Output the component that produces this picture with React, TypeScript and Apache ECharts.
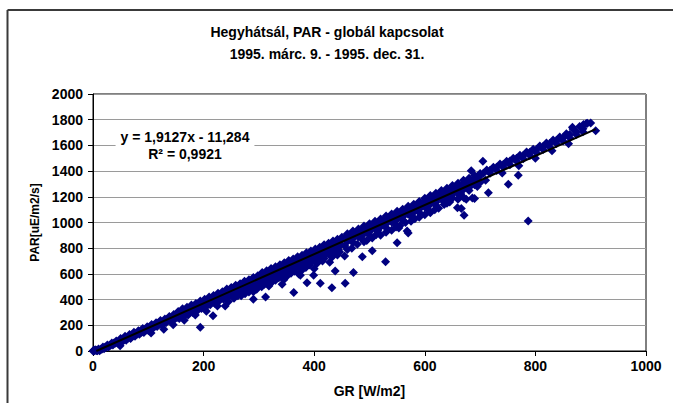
import React, { useEffect, useRef } from "react";
import * as echarts from "echarts";

const originCluster: [number, number][] = [
  [0, 0], [1, 4], [3, 2], [4, 9], [7, 5],
];

const upperRow: [number, number][] = [
  [2, 3], [10, 16], [18, 31], [26, 47], [34, 62], [42, 77], [50, 98], [58, 114], [66, 128], [74, 146],
  [82, 158], [90, 176], [98, 189], [106, 207], [114, 220], [122, 238], [130, 250], [138, 268], [146, 284],
  [154, 308], [162, 328], [170, 340], [178, 358], [186, 370], [194, 390], [202, 402], [210, 420], [218, 432],
  [226, 450], [234, 462], [242, 482], [250, 494], [258, 512], [266, 524], [274, 542], [282, 555], [290, 572],
  [298, 586], [306, 610], [314, 624], [322, 642], [330, 655], [338, 672], [346, 686], [354, 704], [362, 716],
  [370, 734], [378, 746], [386, 764], [394, 778], [402, 794], [410, 808], [418, 826], [426, 838], [434, 856],
  [442, 870], [450, 886], [460, 912], [470, 934], [480, 950], [490, 972], [500, 990], [510, 1010], [520, 1028],
  [530, 1050], [540, 1066], [550, 1088], [560, 1104], [570, 1126], [580, 1142], [590, 1164], [600, 1188],
  [610, 1210], [620, 1228], [630, 1250], [640, 1266], [650, 1288], [660, 1306], [670, 1328], [680, 1344],
  [690, 1366], [700, 1382], [712, 1408], [724, 1430], [736, 1455], [748, 1476], [760, 1500], [772, 1524],
  [784, 1548], [796, 1570], [808, 1596], [820, 1618], [832, 1642], [844, 1665], [856, 1690], [868, 1728],
  [880, 1748], [887, 1762], [892, 1770], [900, 1775],
];

const upperMidRow: [number, number][] = [
  [152, 292], [160, 310], [168, 322], [176, 341], [184, 354], [192, 371], [200, 384], [208, 402], [216, 414],
  [224, 433], [232, 446], [240, 463], [248, 476], [256, 494], [264, 506], [272, 525], [280, 537], [288, 555],
  [296, 568], [304, 592], [312, 606], [320, 624], [328, 637], [336, 654], [344, 668], [352, 685], [360, 698],
  [368, 716], [376, 729], [384, 746], [392, 760], [400, 776], [408, 790], [416, 807], [424, 820], [432, 838],
  [440, 851], [448, 868], [458, 895], [468, 914], [478, 932], [488, 953], [498, 970], [508, 992], [518, 1008],
  [528, 1030], [538, 1048], [548, 1068], [558, 1085], [568, 1106], [578, 1124], [588, 1144], [598, 1162],
  [608, 1182], [618, 1200], [628, 1220], [638, 1240], [648, 1258], [658, 1278], [668, 1296], [678, 1316],
  [688, 1334], [698, 1355], [706, 1384], [718, 1406], [730, 1430], [742, 1452], [754, 1478], [766, 1500],
  [778, 1522], [790, 1546], [802, 1568], [814, 1592], [826, 1614], [838, 1638], [850, 1660], [862, 1684],
  [874, 1706], [886, 1730],
];

const middleRow: [number, number][] = [
  [6, 3], [14, 14], [22, 32], [30, 44], [38, 63], [46, 74], [54, 93], [62, 104], [70, 124], [78, 136],
  [86, 155], [94, 165], [102, 186], [110, 196], [118, 217], [126, 226], [134, 248], [142, 256], [150, 278],
  [158, 287], [166, 310], [174, 318], [182, 340], [190, 348], [198, 371], [206, 380], [214, 402], [222, 410],
  [230, 433], [238, 441], [246, 464], [254, 472], [262, 495], [270, 503], [278, 526], [286, 534], [294, 557],
  [302, 572], [310, 592], [318, 602], [326, 622], [334, 633], [342, 654], [350, 664], [358, 684], [366, 694],
  [374, 715], [382, 726], [390, 745], [398, 756], [406, 776], [414, 788], [422, 806], [430, 818], [438, 838],
  [446, 850], [465, 892], [475, 914], [485, 930], [495, 952], [505, 968], [515, 990], [525, 1006], [535, 1028],
  [545, 1044], [555, 1068], [565, 1082], [575, 1106], [585, 1120], [595, 1144], [605, 1158], [615, 1182],
  [625, 1196], [635, 1220], [645, 1234], [655, 1258], [665, 1272], [675, 1296], [685, 1312], [695, 1336],
  [718, 1384], [730, 1404], [742, 1430], [754, 1450], [766, 1476], [778, 1496], [790, 1522], [802, 1542],
  [814, 1568], [826, 1588], [838, 1614], [850, 1634], [862, 1660], [874, 1684], [886, 1706],
];

const lowerMidRow: [number, number][] = [
  [8, 1], [16, 14], [24, 30], [32, 45], [40, 60], [48, 75], [56, 86], [64, 101], [72, 116], [80, 132],
  [88, 146], [96, 163], [104, 177], [112, 193], [120, 208], [128, 223], [136, 238], [144, 254], [152, 261],
  [160, 277], [168, 292], [176, 306], [184, 323], [192, 337], [200, 354], [208, 367], [216, 384], [224, 398],
  [232, 415], [240, 428], [248, 446], [256, 459], [264, 476], [272, 490], [280, 507], [288, 520], [296, 537],
  [304, 548], [312, 563], [320, 580], [328, 593], [336, 610], [344, 623], [352, 640], [360, 654], [368, 671],
  [376, 684], [384, 702], [392, 715], [400, 732], [408, 746], [416, 763], [424, 776], [432, 794], [440, 807],
  [448, 824], [460, 852], [470, 874], [480, 890], [490, 912], [500, 928], [510, 950], [520, 966], [530, 988],
  [540, 1004], [550, 1026], [560, 1042], [570, 1065], [580, 1080], [590, 1104], [600, 1120], [610, 1142],
  [620, 1158], [630, 1180], [640, 1196], [650, 1218], [660, 1234], [670, 1256], [680, 1272], [690, 1294],
  [700, 1312],
];

const lowerRow: [number, number][] = [
  [12, 2], [20, 17], [28, 32], [36, 47], [44, 63], [52, 68], [60, 84], [68, 98], [76, 114], [84, 130],
  [92, 144], [100, 160], [108, 175], [116, 190], [124, 206], [132, 220], [140, 236], [148, 250], [156, 252],
  [164, 268], [172, 280], [180, 300], [188, 312], [196, 330], [204, 342], [212, 360], [220, 372], [228, 390],
  [236, 402], [244, 420], [252, 434], [260, 452], [268, 464], [276, 482], [284, 495], [292, 514], [300, 516],
  [308, 528], [316, 546], [324, 558], [332, 576], [340, 590], [348, 604], [356, 622], [364, 634], [372, 654],
  [380, 665], [388, 684], [396, 696], [404, 715], [412, 726], [420, 746], [428, 756], [436, 776], [444, 788],
  [455, 820], [470, 845], [485, 878], [500, 902], [515, 935], [530, 960], [545, 992], [560, 1018], [575, 1048],
  [590, 1078], [605, 1105], [620, 1134], [635, 1164], [650, 1190], [665, 1222], [680, 1250], [695, 1280],
  [710, 1328], [740, 1386], [770, 1442], [800, 1500], [830, 1558], [860, 1612],
];

const lowerScatter: [number, number][] = [
  [105, 140], [128, 170], [145, 205], [165, 240], [185, 280], [205, 310], [225, 350], [245, 385],
  [262, 430], [275, 445], [290, 462], [305, 500], [318, 505], [330, 550], [345, 555], [358, 605],
  [372, 600], [385, 650], [400, 640], [415, 700], [428, 690], [442, 748], [455, 740], [468, 800],
  [490, 850], [505, 880], [520, 900], [540, 940], [555, 975], [575, 1010], [590, 1040], [610, 1075],
  [625, 1110], [640, 1150], [660, 1180],
];

const lowerScatter2: [number, number][] = [
  [255, 410], [268, 430], [282, 460], [296, 480], [310, 520], [322, 530], [336, 570], [350, 580],
  [364, 620], [378, 630], [392, 670], [405, 680], [418, 720], [432, 730], [446, 770], [460, 790],
  [478, 830], [495, 860], [512, 905], [530, 925], [548, 965], [565, 1000], [582, 1030], [600, 1060],
  [618, 1100], [645, 1160],
];

const outliers: [number, number][] = [
  [49, 41], [194, 184], [217, 274], [239, 351], [290, 403], [312, 421], [342, 519], [363, 455],
  [375, 589], [387, 532], [399, 589], [411, 527], [432, 493], [438, 622], [456, 527], [471, 610],
  [487, 734], [505, 780], [529, 695], [550, 842], [553, 958], [568, 933], [570, 919], [635, 1140],
  [659, 1114], [663, 1209], [666, 1108], [671, 1057], [671, 1191], [675, 1181], [686, 1191], [690, 1186],
  [684, 1402], [705, 1477], [715, 1231], [751, 1298], [769, 1368], [787, 1012], [867, 1742], [894, 1773],
  [909, 1714],
];

// Linear trendline y = 1,9127x - 11,284 over the data range (end points)
const trendLine: [number, number][] = [
  [6, 0.2],
  [909, 1727],
];

const titleLine1 = "Hegyhátsál, PAR - globál kapcsolat";
const titleLine2 = "1995. márc. 9. - 1995. dec. 31.";
const xAxisTitle = "GR [W/m2]";
const yAxisTitle = "PAR[uE/m2/s]";
const equationText = "y = 1,9127x - 11,284";
const rSquaredText = "R² = 0,9921";

const ARIAL = "'Liberation Sans', Arial, sans-serif";

export default function App() {
  const ref = useRef<HTMLDivElement>(null);

  useEffect(() => {
    if (!ref.current) return;
    const chart = echarts.init(ref.current, null, { renderer: "svg" });
    const points = [
      ...originCluster,
      ...lowerScatter,
      ...lowerScatter2,
      ...lowerRow,
      ...lowerMidRow,
      ...middleRow,
      ...upperMidRow,
      ...upperRow,
      ...outliers,
    ];

    chart.setOption({
      animation: false,
      backgroundColor: "#ffffff",
      title: {
        text: titleLine1 + "\n" + titleLine2,
        left: 322,
        top: 16,
        textAlign: "center",
        textStyle: {
          fontFamily: ARIAL,
          fontSize: 14,
          fontWeight: "bold",
          color: "#000",
          lineHeight: 22,
        },
      },
      grid: {
        left: 93,
        top: 94,
        width: 553,
        height: 258,
        show: true,
        backgroundColor: "#ffffff",
        borderColor: "#000",
        borderWidth: 1,
      },
      xAxis: {
        type: "value",
        min: 0,
        max: 1000,
        interval: 200,
        name: xAxisTitle,
        nameLocation: "middle",
        nameGap: 33,
        nameTextStyle: { fontFamily: ARIAL, fontSize: 14, fontWeight: "bold", color: "#000" },
        axisLine: { show: true, lineStyle: { color: "#000", width: 1 } },
        axisTick: { show: true, inside: false, length: 5, lineStyle: { color: "#000" } },
        axisLabel: {
          margin: 8,
          fontFamily: ARIAL,
          fontSize: 14,
          fontWeight: "bold",
          color: "#000",
          formatter: (v: number) => String(v),
        },
        splitLine: { show: false },
      },
      yAxis: {
        type: "value",
        min: 0,
        max: 2000,
        interval: 200,
        name: yAxisTitle,
        nameLocation: "middle",
        nameGap: 46,
        nameTextStyle: { fontFamily: ARIAL, fontSize: 12, fontWeight: "bold", color: "#000" },
        axisLine: { show: true, lineStyle: { color: "#000", width: 1 } },
        axisTick: { show: true, inside: false, length: 5, lineStyle: { color: "#000" } },
        axisLabel: {
          margin: 10,
          fontFamily: ARIAL,
          fontSize: 14,
          fontWeight: "bold",
          color: "#000",
          formatter: (v: number) => String(v),
        },
        splitLine: { show: true, lineStyle: { color: "#9a9a9a", width: 1 } },
      },
      series: [
        {
          type: "scatter",
          data: points,
          symbol: "diamond",
          symbolSize: 9,
          itemStyle: { color: "#000080", opacity: 1 },
          silent: true,
          z: 2,
        },
        {
          type: "line",
          data: trendLine,
          symbol: "none",
          lineStyle: { color: "#000", width: 2 },
          silent: true,
          z: 3,
        },
      ],
      graphic: [
        {
          type: "line",
          shape: { x1: 7.5, y1: 10, x2: 673, y2: 10 },
          style: { stroke: "#3a3a3a", lineWidth: 2 },
          z: 10,
        },
        {
          type: "line",
          shape: { x1: 7.5, y1: 10, x2: 7.5, y2: 403 },
          style: { stroke: "#3a3a3a", lineWidth: 2 },
          z: 10,
        },
        {
          type: "text",
          x: 185,
          y: 127,
          z: 10,
          style: {
            text: equationText + "\n" + rSquaredText,
            fontFamily: ARIAL,
            fontSize: 14,
            fontWeight: "bold",
            fill: "#000",
            align: "center",
            verticalAlign: "top",
            lineHeight: 17,
            backgroundColor: "#fff",
            padding: [1, 5, 1, 5],
          },
        },
      ],
    });

    return () => chart.dispose();
  }, []);

  return (
    <div
      ref={ref}
      style={{ position: "absolute", left: 0, top: 0, width: 673, height: 403, background: "#fff" }}
    />
  );
}
